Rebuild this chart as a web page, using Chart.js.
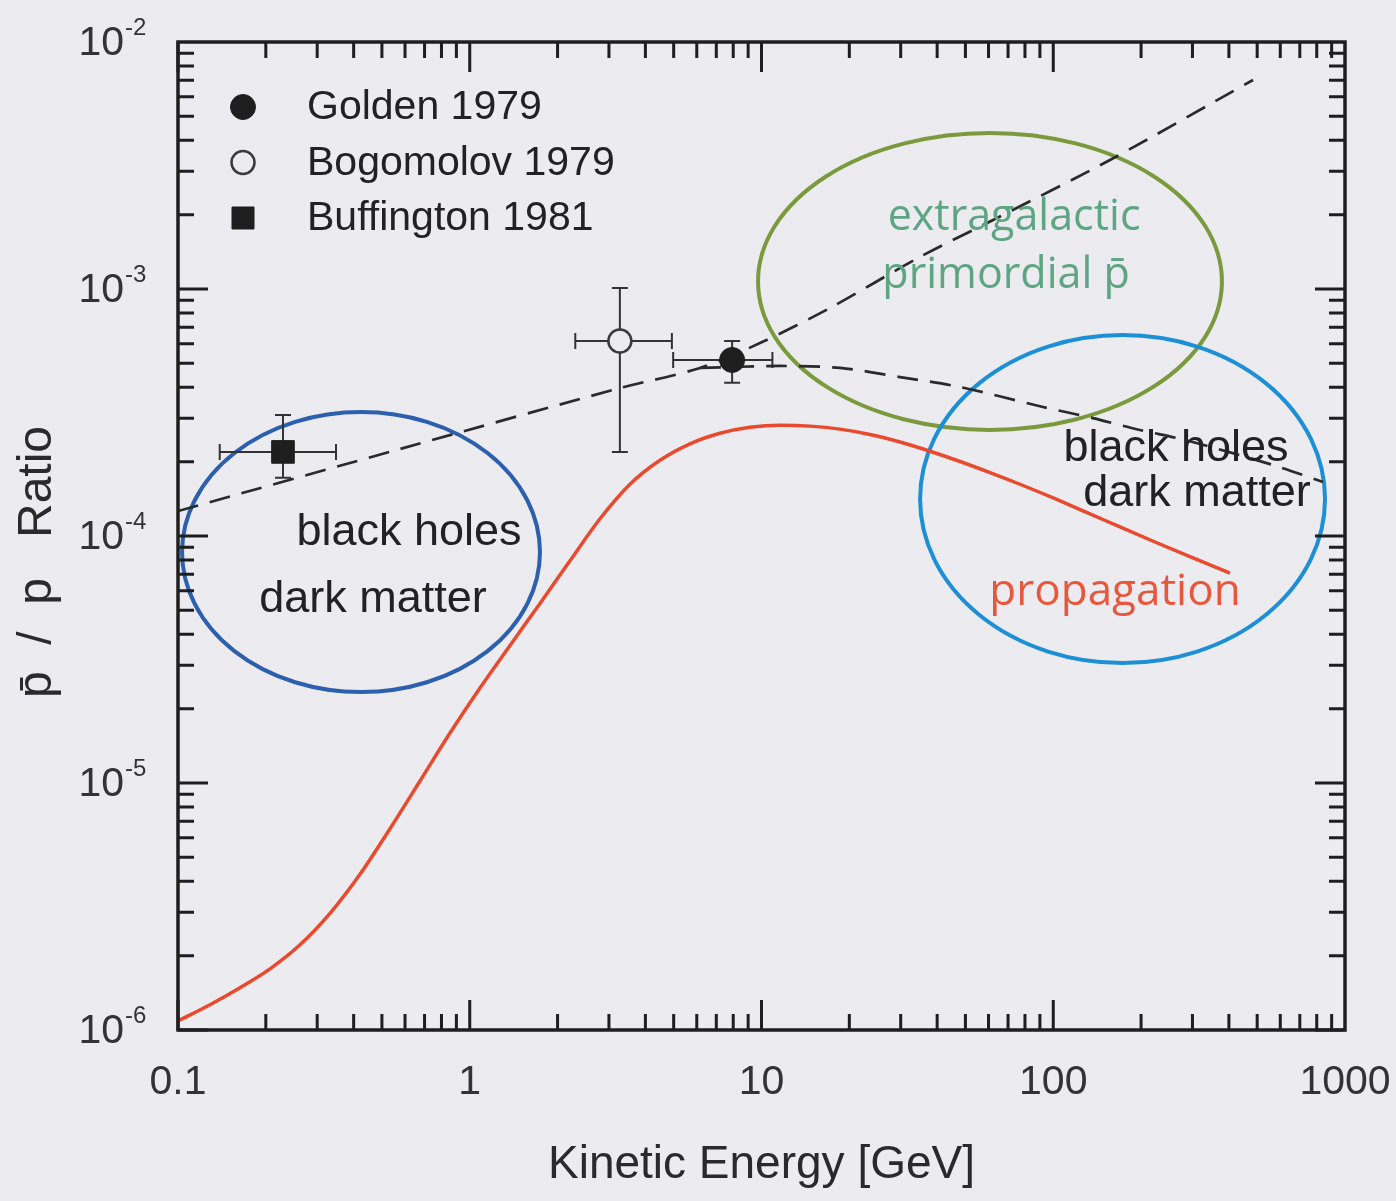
<!DOCTYPE html>
<html>
<head>
<meta charset="utf-8">
<script src="https://cdn.jsdelivr.net/npm/chart.js@4.4.1/dist/chart.umd.min.js"></script>
<style>
  html, body { margin: 0; padding: 0; background: #ececf0; }
  #wrap { width: 1396px; height: 1201px; }
  canvas { display: block; }
</style>
</head>
<body>
<div id="wrap"><canvas id="chart" width="1396" height="1201"></canvas></div>
<script>
// ---- axis ticks ----
const energyTickValues = [0.1, 1, 10, 100, 1000];
const energyTickLabels = ['0.1', '1', '10', '100', '1000'];
const ratioTickExponents = [-2, -3, -4, -5, -6];

// ---- secondary (propagation) p̄/p prediction ----
const propagationE = [0.1, 0.1287, 0.1631, 0.2067, 0.2620, 0.3319, 0.4205, 0.5329, 0.6752, 0.8556,
  1.084, 1.374, 1.741, 2.206, 2.795, 3.542, 4.488, 5.688, 7.207, 9.133,
  11.57, 14.67, 18.58, 23.54, 29.84, 37.81, 47.91, 60.72, 76.92, 101.4,
  133.6, 169.3, 223.2, 294.2, 403.5];
const propagationRatio = [1.088e-6, 1.266e-6, 1.484e-6, 1.769e-6, 2.213e-6, 2.968e-6, 4.270e-6, 6.531e-6, 1.019e-5, 1.594e-5,
  2.425e-5, 3.606e-5, 5.335e-5, 7.936e-5, 1.174e-4, 1.620e-4, 2.025e-4, 2.361e-4, 2.605e-4, 2.754e-4,
  2.809e-4, 2.785e-4, 2.708e-4, 2.576e-4, 2.401e-4, 2.203e-4, 2.003e-4, 1.806e-4, 1.620e-4, 1.416e-4,
  1.230e-4, 1.088e-4, 9.456e-5, 8.243e-5, 7.075e-5];

// ---- primary-source models (dashed) ----
const extragalacticE = [0.1, 0.577, 3.27, 6.155, 9.88, 17.17, 34.9, 62.2, 156.5, 484];
const extragalacticRatio = [1.262e-4, 2.25e-4, 3.97e-4, 4.79e-4, 6.04e-4, 8.38e-4, 1.348e-3, 1.903e-3, 3.33e-3, 7.02e-3];
const galacticE = [6.155, 11.57, 18.58, 29.84, 47.9, 92.2, 136.8, 198.3, 282.9, 566.4, 840.6];
const galacticRatio = [4.79e-4, 4.88e-4, 4.79e-4, 4.40e-4, 4.01e-4, 3.33e-4, 3.00e-4, 2.686e-4, 2.447e-4, 1.938e-4, 1.654e-4];

// ---- measurements ----
const goldenE = [7.93];       const goldenRatio = [5.16e-4];
const goldenELow = [4.98];    const goldenEHigh = [10.9];
const goldenRLow = [4.17e-4]; const goldenRHigh = [6.16e-4];

const bogomolovE = [3.27];       const bogomolovRatio = [6.16e-4];
const bogomolovELow = [2.30];    const bogomolovEHigh = [4.93];
const bogomolovRLow = [2.19e-4]; const bogomolovRHigh = [1.01e-3];

const buffingtonE = [0.229];      const buffingtonRatio = [2.19e-4];
const buffingtonELow = [0.139];   const buffingtonEHigh = [0.348];
const buffingtonRLow = [1.72e-4]; const buffingtonRHigh = [3.09e-4];

// ---- source regions: centre energy, centre ratio, half-width / half-height in decades ----
const regionE       = [0.4239, 60.7, 172.8];
const regionRatio   = [8.61e-5, 1.073e-3, 1.411e-4];
const regionHalfE   = [0.6135, 0.795, 0.694];
const regionHalfR   = [0.567, 0.601, 0.664];
const regionColors  = ['#2c5fae', '#7b9a3d', '#1d8fd6'];

const BG = '#ececf0';
const INK = '#1e1e1e';

const pts = (xs, ys) => xs.map((v, i) => ({ x: v, y: ys[i] }));

const errorBars = [
  { e: goldenE, r: goldenRatio, eLo: goldenELow, eHi: goldenEHigh, rLo: goldenRLow, rHi: goldenRHigh },
  { e: bogomolovE, r: bogomolovRatio, eLo: bogomolovELow, eHi: bogomolovEHigh, rLo: bogomolovRLow, rHi: bogomolovRHigh },
  { e: buffingtonE, r: buffingtonRatio, eLo: buffingtonELow, eHi: buffingtonEHigh, rLo: buffingtonRLow, rHi: buffingtonRHigh }
];

const regionsPlugin = {
  id: 'regions',
  beforeDatasetsDraw(chart) {
    const { ctx, scales: { x, y } } = chart;
    ctx.save();
    ctx.lineWidth = 4;
    regionE.forEach((e, i) => {
      const cx = x.getPixelForValue(e);
      const cy = y.getPixelForValue(regionRatio[i]);
      const rx = x.getPixelForValue(e * Math.pow(10, regionHalfE[i])) - cx;
      const ry = cy - y.getPixelForValue(regionRatio[i] * Math.pow(10, regionHalfR[i]));
      ctx.strokeStyle = regionColors[i];
      ctx.beginPath();
      ctx.ellipse(cx, cy, rx, ry, 0, 0, Math.PI * 2);
      ctx.stroke();
    });
    // error bars
    ctx.strokeStyle = '#333';
    ctx.lineWidth = 2;
    const cap = 8;
    errorBars.forEach(b => {
      b.e.forEach((e, i) => {
        const px = x.getPixelForValue(e), py = y.getPixelForValue(b.r[i]);
        const x0 = x.getPixelForValue(b.eLo[i]), x1 = x.getPixelForValue(b.eHi[i]);
        const y0 = y.getPixelForValue(b.rLo[i]), y1 = y.getPixelForValue(b.rHi[i]);
        ctx.beginPath();
        ctx.moveTo(x0, py); ctx.lineTo(x1, py);
        ctx.moveTo(x0, py - cap); ctx.lineTo(x0, py + cap);
        ctx.moveTo(x1, py - cap); ctx.lineTo(x1, py + cap);
        ctx.moveTo(px, y0); ctx.lineTo(px, y1);
        ctx.moveTo(px - cap, y0); ctx.lineTo(px + cap, y0);
        ctx.moveTo(px - cap, y1); ctx.lineTo(px + cap, y1);
        ctx.stroke();
      });
    });
    ctx.restore();
  }
};

// text labels anchored at (energy, ratio)
const notes = [
  { t: 'black holes',  e: 0.619, r: 1.028e-4, font: '45px "Liberation Sans", Arial, sans-serif', c: '#222' },
  { t: 'dark matter',  e: 0.466, r: 5.51e-5,  font: '45px "Liberation Sans", Arial, sans-serif', c: '#222' },
  { t: 'extragalactic', e: 73.4, r: 1.938e-3, font: '43px "Open Sans", sans-serif', c: '#5ea583' },
  { t: 'primordial p\u0304', e: 68.9, r: 1.129e-3, font: '43px "Open Sans", sans-serif', c: '#5ea583' },
  { t: 'black holes',  e: 263.5, r: 2.25e-4, font: '45px "Liberation Sans", Arial, sans-serif', c: '#222' },
  { t: 'dark matter',  e: 310.9, r: 1.49e-4, font: '45px "Liberation Sans", Arial, sans-serif', c: '#222' },
  { t: 'propagation',  e: 162.8, r: 5.88e-5,  font: '44px "Open Sans", sans-serif', c: '#e8573c' }
];

const frameAndText = {
  id: 'frameAndText',
  afterDatasetsDraw(chart) {
    const { ctx, scales: { x, y } } = chart;
    ctx.save();
    ctx.textAlign = 'center';
    ctx.textBaseline = 'middle';
    notes.forEach(n => {
      ctx.font = n.font;
      ctx.fillStyle = n.c;
      ctx.fillText(n.t, x.getPixelForValue(n.e), y.getPixelForValue(n.r));
    });
    ctx.restore();
  },
  afterDraw(chart) {
    const { ctx, chartArea: a, scales: { x, y } } = chart;
    ctx.save();
    ctx.strokeStyle = INK;
    ctx.lineCap = 'butt';
    // minor & major ticks, pointing inwards on all four sides
    ctx.lineWidth = 3;
    ctx.beginPath();
    for (let d = -1; d <= 2; d++) {
      for (let k = 1; k <= 9; k++) {
        const px = x.getPixelForValue(k * Math.pow(10, d));
        const len = k === 1 ? 30 : 16;
        ctx.moveTo(px, a.bottom); ctx.lineTo(px, a.bottom - len);
        ctx.moveTo(px, a.top); ctx.lineTo(px, a.top + len);
      }
    }
    for (let d = -6; d <= -3; d++) {
      for (let k = 1; k <= 9; k++) {
        const py = y.getPixelForValue(k * Math.pow(10, d));
        const len = k === 1 ? 30 : 16;
        ctx.moveTo(a.left, py); ctx.lineTo(a.left + len, py);
        ctx.moveTo(a.right, py); ctx.lineTo(a.right - len, py);
      }
    }
    ctx.stroke();
    // frame
    ctx.lineWidth = 3.5;
    ctx.strokeRect(a.left, a.top, a.right - a.left, a.bottom - a.top);

    // tick labels
    ctx.fillStyle = '#333';
    ctx.textAlign = 'center';
    ctx.textBaseline = 'middle';
    ctx.font = '41px "Liberation Sans", Arial, sans-serif';
    energyTickValues.forEach((v, i) => {
      ctx.fillText(energyTickLabels[i], x.getPixelForValue(v), a.bottom + 53);
    });
    ratioTickExponents.forEach(p => {
      const py = y.getPixelForValue(Math.pow(10, p));
      ctx.font = '41px "Liberation Sans", Arial, sans-serif';
      ctx.textAlign = 'right';
      ctx.fillText('10', a.left - 54, py + 2);
      ctx.font = '24px "Liberation Sans", Arial, sans-serif';
      ctx.textAlign = 'left';
      ctx.fillText(String(p), a.left - 53, py - 14);
    });

    // axis titles
    ctx.fillStyle = '#2a2a2a';
    ctx.textAlign = 'center';
    ctx.font = '46px "Liberation Sans", Arial, sans-serif';
    ctx.fillText('Kinetic Energy [GeV]', (a.left + a.right) / 2, a.bottom + 135);
    ctx.save();
    ctx.translate(38, 562);
    ctx.rotate(-Math.PI / 2);
    ctx.font = '48px "Liberation Sans", Arial, sans-serif';
    ctx.fillText('p\u0304  /  p   Ratio', 0, 0);
    ctx.restore();

    // legend
    const legendItems = chart.data.datasets.filter(ds => ds.legend);
    ctx.font = '41px "Liberation Sans", Arial, sans-serif';
    ctx.textAlign = 'left';
    legendItems.forEach((ds, i) => {
      const ly = 107 + i * 55.5;
      const lx = 243;
      ctx.fillStyle = ds.backgroundColor;
      ctx.strokeStyle = ds.borderColor;
      ctx.lineWidth = ds.borderWidth;
      ctx.beginPath();
      if (ds.pointStyle === 'rect') {
        ctx.rect(lx - 11, ly - 11, 22, 22);
      } else {
        ctx.arc(lx, ly, ds.pointRadius, 0, Math.PI * 2);
      }
      ctx.fill();
      ctx.stroke();
      ctx.fillStyle = '#222';
      ctx.fillText(ds.label, 307, ly + 1);
    });
    ctx.restore();
  }
};

new Chart(document.getElementById('chart'), {
  type: 'scatter',
  data: {
    datasets: [
      { label: 'Golden 1979', legend: true, data: pts(goldenE, goldenRatio),
        pointStyle: 'circle', pointRadius: 12.5, backgroundColor: INK, borderColor: INK, borderWidth: 1 },
      { label: 'Bogomolov 1979', legend: true, data: pts(bogomolovE, bogomolovRatio),
        pointStyle: 'circle', pointRadius: 11.5, backgroundColor: BG, borderColor: '#3a3a3a', borderWidth: 2.5 },
      { label: 'Buffington 1981', legend: true, data: pts(buffingtonE, buffingtonRatio),
        pointStyle: 'rect', pointRadius: 16, backgroundColor: INK, borderColor: INK, borderWidth: 1 },
      { label: 'propagation', data: pts(propagationE, propagationRatio), showLine: true,
        borderColor: '#e9492c', borderWidth: 3.5, pointRadius: 0, cubicInterpolationMode: 'monotone' },
      { label: 'extragalactic primordial', data: pts(extragalacticE, extragalacticRatio), showLine: true,
        borderColor: '#2a2a2a', borderWidth: 2.7, borderDash: [21, 12], pointRadius: 0, tension: 0.3 },
      { label: 'black holes / dark matter', data: pts(galacticE, galacticRatio), showLine: true,
        borderColor: '#2a2a2a', borderWidth: 2.7, borderDash: [21, 12], pointRadius: 0, tension: 0.3 }
    ]
  },
  options: {
    responsive: false,
    animation: false,
    devicePixelRatio: 1,
    layout: { padding: { left: 178, top: 42, right: 51, bottom: 171 } },
    plugins: { legend: { display: false }, tooltip: { enabled: false } },
    scales: {
      x: { type: 'logarithmic', min: 0.1, max: 1000, display: false },
      y: { type: 'logarithmic', min: 1e-6, max: 1e-2, display: false }
    }
  },
  plugins: [regionsPlugin, frameAndText]
});
</script>
</body>
</html>
